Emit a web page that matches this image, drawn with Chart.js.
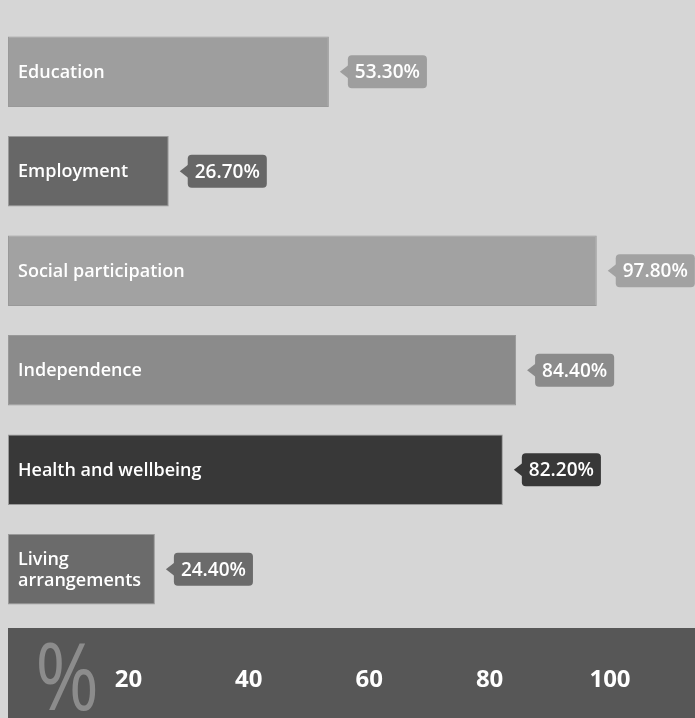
<!DOCTYPE html>
<html>
<head>
<meta charset="utf-8">
<script src="https://cdn.jsdelivr.net/npm/chart.js@4.4.1/dist/chart.umd.min.js"></script>
<style>
  html, body { margin: 0; padding: 0; background: #d6d6d6; }
  #wrap { width: 695px; height: 718px; }
</style>
</head>
<body>
<div id="wrap"><canvas id="chart" width="695" height="718"></canvas></div>
<script>
// --------- Chart data ---------
const categories = ['Education', 'Employment', 'Social participation', 'Independence', 'Health and wellbeing', ['Living', 'arrangements']];
const values = [53.3, 26.7, 97.8, 84.4, 82.2, 24.4];
const barColors = ['#9e9e9e', '#676767', '#a2a2a2', '#8b8b8b', '#383838', '#6b6b6b'];
const tickValues = [0, 20, 40, 60, 80, 100];
const tickLabels = ['', '20', '40', '60', '80', '100'];

const FONT = '"Open Sans", "Noto Sans", sans-serif';

// --------- Dark axis band + big % sign ---------
const bandPlugin = {
    id: 'band',
    beforeDraw(chart) {
        const { ctx, chartArea, scales } = chart;
        const top = chartArea.bottom + 9;
        ctx.save();
        ctx.fillStyle = '#d6d6d6';
        ctx.fillRect(0, 0, chart.width, chart.height);
        ctx.fillStyle = '#575757';
        ctx.fillRect(chartArea.left, top, chart.width - chartArea.left, chart.height - top);
        ctx.fillStyle = '#8c8c8c';
        ctx.font = '500 94px ' + FONT;
        ctx.textAlign = 'center';
        ctx.textBaseline = 'middle';
        ctx.translate(scales.x.getPixelForValue(10) - 1, top + 55);
        ctx.scale(0.82, 1);
        ctx.fillText('%', 0, 0);
        ctx.restore();
    }
};

// --------- Labels inside bars + value callouts ---------
const labelPlugin = {
    id: 'labels',
    afterDatasetsDraw(chart) {
        const { ctx } = chart;
        const bars = chart.getDatasetMeta(0).data;
        ctx.save();
        bars.forEach((bar, i) => {
            // category label
            ctx.fillStyle = '#ffffff';
            ctx.font = '600 18px ' + FONT;
            ctx.textAlign = 'left';
            ctx.textBaseline = 'middle';
            const lines = Array.isArray(categories[i]) ? categories[i] : [categories[i]];
            const lh = 21;
            lines.forEach((line, j) => {
                ctx.fillText(line, bar.base + 10, bar.y + 1 + (j - (lines.length - 1) / 2) * lh);
            });

            // value callout
            const text = values[i].toFixed(2) + '%';
            ctx.font = '600 19px ' + FONT;
            const w = ctx.measureText(text).width + 14;
            const h = 33;
            const tip = bar.x + 11;
            const left = tip + 8;
            ctx.fillStyle = barColors[i];
            ctx.beginPath();
            ctx.roundRect(left, bar.y - h / 2, w, h, 4);
            ctx.fill();
            ctx.beginPath();
            ctx.moveTo(tip, bar.y);
            ctx.lineTo(left + 1, bar.y - 7);
            ctx.lineTo(left + 1, bar.y + 7);
            ctx.closePath();
            ctx.fill();
            ctx.fillStyle = '#ffffff';
            ctx.textAlign = 'center';
            ctx.fillText(text, left + w / 2, bar.y + 1);
        });
        ctx.restore();
    }
};

const chart = new Chart(document.getElementById('chart'), {
    type: 'bar',
    data: {
        labels: categories,
        datasets: [{
            data: values,
            backgroundColor: barColors,
            borderColor: 'rgba(40,40,40,0.35)',
            borderWidth: 1,
            borderSkipped: false,
            barPercentage: 0.71,
            categoryPercentage: 1
        }]
    },
    options: {
        indexAxis: 'y',
        responsive: false,
        animation: false,
        events: [],
        layout: { padding: { top: 22, right: 85, left: 8, bottom: 0 } },
        plugins: {
            legend: { display: false },
            tooltip: { enabled: false }
        },
        scales: {
            x: {
                min: 0,
                max: 100,
                grid: { display: false, drawTicks: false },
                border: { display: false },
                afterBuildTicks: (scale) => {
                    scale.ticks = tickValues.map((v) => ({ value: v }));
                },
                afterFit: (scale) => {
                    scale.height = 99;
                    scale.paddingLeft = 0;
                    scale.paddingRight = 0;
                },
                ticks: {
                    color: '#ffffff',
                    padding: 47,
                    maxRotation: 0,
                    font: { family: FONT, size: 24, weight: 'bold' },
                    callback: (value) => tickLabels[tickValues.indexOf(value)]
                }
            },
            y: { display: false }
        }
    },
    plugins: [bandPlugin, labelPlugin]
});
</script>
</body>
</html>
